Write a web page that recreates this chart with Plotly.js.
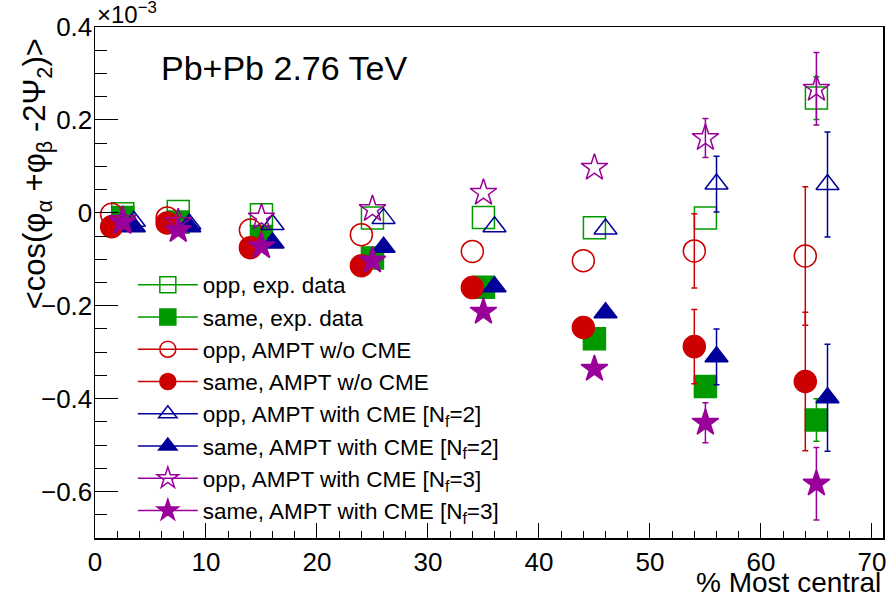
<!DOCTYPE html>
<html>
<head>
<meta charset="utf-8">
<script src="https://cdn.plot.ly/plotly-3.0.1.min.js"></script>
<style>html,body{margin:0;padding:0;background:#fff;}#chart{width:889px;height:600px;}</style>
</head>
<body>
<div id="chart"></div>
<script>
// x positions (% most central) for each marker family
const xCircle   = [1.5, 6.5, 14, 24, 34, 44, 54, 64];
const xSquare   = [2.5, 7.5, 15, 25, 35, 45, 55, 65];
const xTriangle = [3.5, 8.5, 16, 26, 36, 46, 56, 66];
const xStar     = [2.5, 7.5, 15, 25, 35, 45, 55, 65];

// values in units of 1e-3 ; NaN = error bar hidden inside the marker
const oppExp      = [-0.002, 0.003, -0.004, -0.011, -0.010, -0.032, -0.011, 0.247];
const oppExpErr   = [NaN, NaN, NaN, NaN, NaN, NaN, NaN, 0.046];
const sameExp     = [-0.010, -0.020, -0.051, -0.097, -0.160, -0.271, -0.374, -0.446];
const sameExpErr  = [NaN, NaN, NaN, NaN, NaN, NaN, NaN, 0.046];

const oppNoCME     = [-0.003, -0.011, -0.037, -0.047, -0.083, -0.103, -0.082, -0.093];
const oppNoCMEErr  = [NaN, NaN, NaN, NaN, NaN, NaN, 0.080, 0.149];
const sameNoCME    = [-0.030, -0.022, -0.075, -0.114, -0.161, -0.247, -0.288, -0.363];
const sameNoCMEErr = [NaN, NaN, NaN, NaN, NaN, NaN, 0.080, 0.149];

const oppCME2      = [-0.018, -0.024, -0.025, -0.012, -0.030, -0.035, 0.062, 0.061];
const oppCME2Err   = [NaN, NaN, NaN, NaN, NaN, NaN, 0.060, 0.113];
const sameCME2     = [-0.030, -0.030, -0.065, -0.074, -0.159, -0.215, -0.310, -0.398];
const sameCME2Err  = [NaN, NaN, NaN, NaN, NaN, NaN, 0.060, 0.115];

const oppCME3      = [-0.015, -0.020, -0.010, 0.008, 0.043, 0.097, 0.161, 0.267];
const oppCME3Err   = [NaN, NaN, NaN, NaN, NaN, NaN, 0.042, 0.078];
const sameCME3     = [-0.020, -0.037, -0.072, -0.103, -0.213, -0.336, -0.452, -0.583];
const sameCME3Err  = [NaN, NaN, NaN, NaN, NaN, NaN, 0.043, 0.078];

const seriesNames = [
  'opp, exp. data',
  'same, exp. data',
  'opp, AMPT w/o CME',
  'same, AMPT w/o CME',
  'opp, AMPT with CME [N<sub>f</sub>=2]',
  'same, AMPT with CME [N<sub>f</sub>=2]',
  'opp, AMPT with CME [N<sub>f</sub>=3]',
  'same, AMPT with CME [N<sub>f</sub>=3]'
];

const GREEN = 'rgb(0,153,0)', RED = 'rgb(204,0,0)', BLUE = 'rgb(0,0,153)', PURPLE = 'rgb(153,0,153)';
const FONT = 'Liberation Sans, Arial, Helvetica, sans-serif';

const specs = [
  {x: xSquare,   y: oppExp,    e: oppExpErr,    c: GREEN,  s: 'square-open',      sz: 22},
  {x: xSquare,   y: sameExp,   e: sameExpErr,   c: GREEN,  s: 'square',           sz: 22},
  {x: xCircle,   y: oppNoCME,  e: oppNoCMEErr,  c: RED,    s: 'circle-open',      sz: 22},
  {x: xCircle,   y: sameNoCME, e: sameNoCMEErr, c: RED,    s: 'circle',           sz: 22},
  {x: xTriangle, y: oppCME2,   e: oppCME2Err,   c: BLUE,   s: 'triangle-up-open', sz: 20},
  {x: xTriangle, y: sameCME2,  e: sameCME2Err,  c: BLUE,   s: 'triangle-up',      sz: 20},
  {x: xStar,     y: oppCME3,   e: oppCME3Err,   c: PURPLE, s: 'star-open',        sz: 20},
  {x: xStar,     y: sameCME3,  e: sameCME3Err,  c: PURPLE, s: 'star',             sz: 20}
];

const traces = [];
specs.forEach((p, i) => {
  traces.push({
    type: 'scatter', mode: 'markers', x: p.x, y: p.y, name: seriesNames[i],
    showlegend: false, cliponaxis: false,
    marker: {symbol: p.s, size: p.sz, color: p.c, line: {color: p.c, width: 1.5}},
    error_y: {type: 'data', array: p.e, visible: true, color: p.c, thickness: 1.5, width: 3}
  });
});
// legend entries (line through marker, as in the original)
specs.forEach((p, i) => {
  traces.push({
    type: 'scatter', mode: 'lines+markers', x: [null], y: [null], name: seriesNames[i],
    showlegend: true,
    line: {color: p.c, width: 1.5},
    marker: {symbol: p.s, size: p.sz, color: p.c, line: {color: p.c, width: 1.5}}
  });
});

const layout = {
  width: 889, height: 600,
  margin: {l: 95, r: 6, t: 27, b: 62},
  paper_bgcolor: '#fff', plot_bgcolor: '#fff',
  font: {family: FONT, color: '#000'},
  showlegend: true,
  legend: {
    x: 0.048, y: 0.537, xanchor: 'left', yanchor: 'top',
    bgcolor: 'rgba(0,0,0,0)', font: {size: 22.5, family: FONT},
    itemwidth: 60, tracegroupgap: 0
  },
  xaxis: {
    range: [0, 71], tick0: 0, dtick: 10, ticks: 'inside', ticklen: 15, tickwidth: 1, tickcolor: '#000',
    showline: true, linecolor: '#000', linewidth: 1.5, mirror: true,
    showgrid: false, zeroline: false,
    tickfont: {size: 26, family: FONT},
    minor: {dtick: 2, ticks: 'inside', ticklen: 7, tickwidth: 1, tickcolor: '#000', showgrid: false}
  },
  yaxis: {
    range: [-0.7, 0.4], tick0: 0, dtick: 0.2, ticks: 'inside', ticklen: 23, tickwidth: 1, tickcolor: '#000',
    showline: true, linecolor: '#000', linewidth: 1.5, mirror: true,
    showgrid: false, zeroline: false, ticklabelstandoff: -4,
    tickfont: {size: 26, family: FONT},
    minor: {dtick: 0.05, ticks: 'inside', ticklen: 12, tickwidth: 1, tickcolor: '#000', showgrid: false}
  },
  annotations: [
    {text: 'Pb+Pb 2.76 TeV', xref: 'paper', yref: 'paper', x: 0.081, y: 0.92,
     xanchor: 'left', yanchor: 'middle', showarrow: false, font: {size: 34, family: FONT}},
    {text: '×10<sup>−3</sup>', xref: 'paper', yref: 'paper', x: 0.0, y: 0.995,
     xanchor: 'left', yanchor: 'bottom', showarrow: false, font: {size: 24, family: FONT}},
    {text: '&lt;cos(φ<sub>α</sub> +φ<sub>β</sub> -2Ψ<sub>2</sub>)&gt;', xref: 'paper', yref: 'paper',
     x: -0.074, y: 0.713, xanchor: 'center', yanchor: 'middle', textangle: -90,
     showarrow: false, font: {size: 31, family: FONT}},
    {text: '% Most central', xref: 'paper', yref: 'paper', x: 1.0, y: -0.088,
     xanchor: 'right', yanchor: 'middle', showarrow: false, font: {size: 28, family: FONT}}
  ]
};

Plotly.newPlot('chart', traces, layout, {displayModeBar: false, staticPlot: true});
</script>
</body>
</html>
